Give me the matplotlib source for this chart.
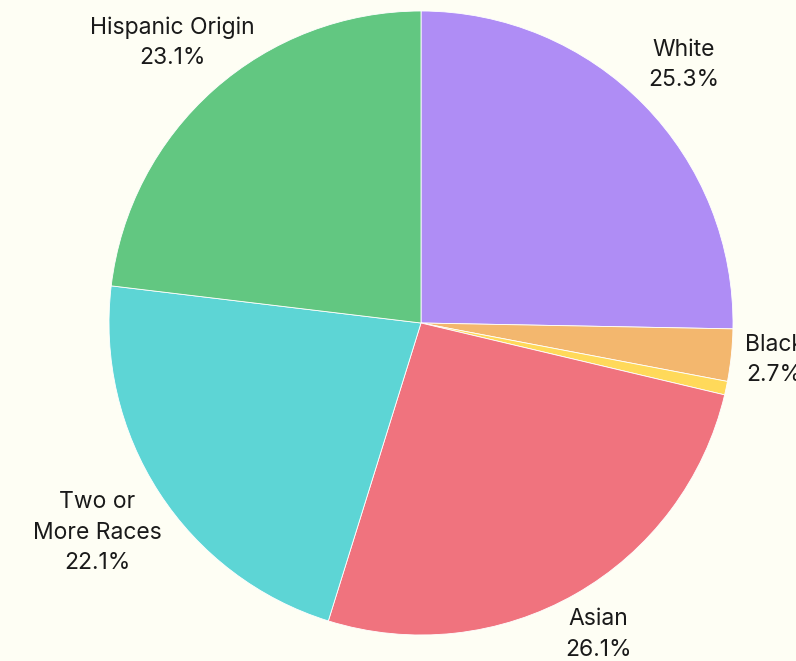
import numpy as np
import matplotlib
matplotlib.use("Agg")
import matplotlib.pyplot as plt

labels = ["White", "Black", "", "Asian", "Two or\nMore Races", "Hispanic Origin"]
values = [25.3, 2.7, 0.7, 26.1, 22.1, 23.1]
colours = ["#AF8DF5", "#F3B76E", "#FFD95A", "#F0737E", "#5DD5D5", "#62C781"]
label_dist = [1.18, 1.14, 1.2, 1.15, 1.235, 1.2]

bg = "#FEFEF4"
W, H = 796, 661
cx, cy, R = 421, 323, 312  # pie centre and radius in pixels

fig = plt.figure(figsize=(W / 100, H / 100), dpi=100, facecolor=bg)
ax = fig.add_axes([0, 0, 1, 1])
ax.set_facecolor(bg)

wedges, _ = ax.pie(values, colors=colours, startangle=90, counterclock=False,
                   wedgeprops=dict(edgecolor="white", linewidth=0.6))

for w, lab, v, d in zip(wedges, labels, values, label_dist):
    if not lab:
        continue
    ang = np.deg2rad((w.theta1 + w.theta2) / 2)
    ax.text(d * np.cos(ang), d * np.sin(ang), f"{lab}\n{v:.1f}%",
            ha="center", va="center", fontsize=16.5, color="#1a1a1a",
            family="Inter", linespacing=1.5)

ax.set_xlim(-cx / R, (W - cx) / R)
ax.set_ylim((cy - H) / R, cy / R)
ax.set_aspect("auto")
ax.axis("off")

fig.savefig("out.png", dpi=100, facecolor=bg)
